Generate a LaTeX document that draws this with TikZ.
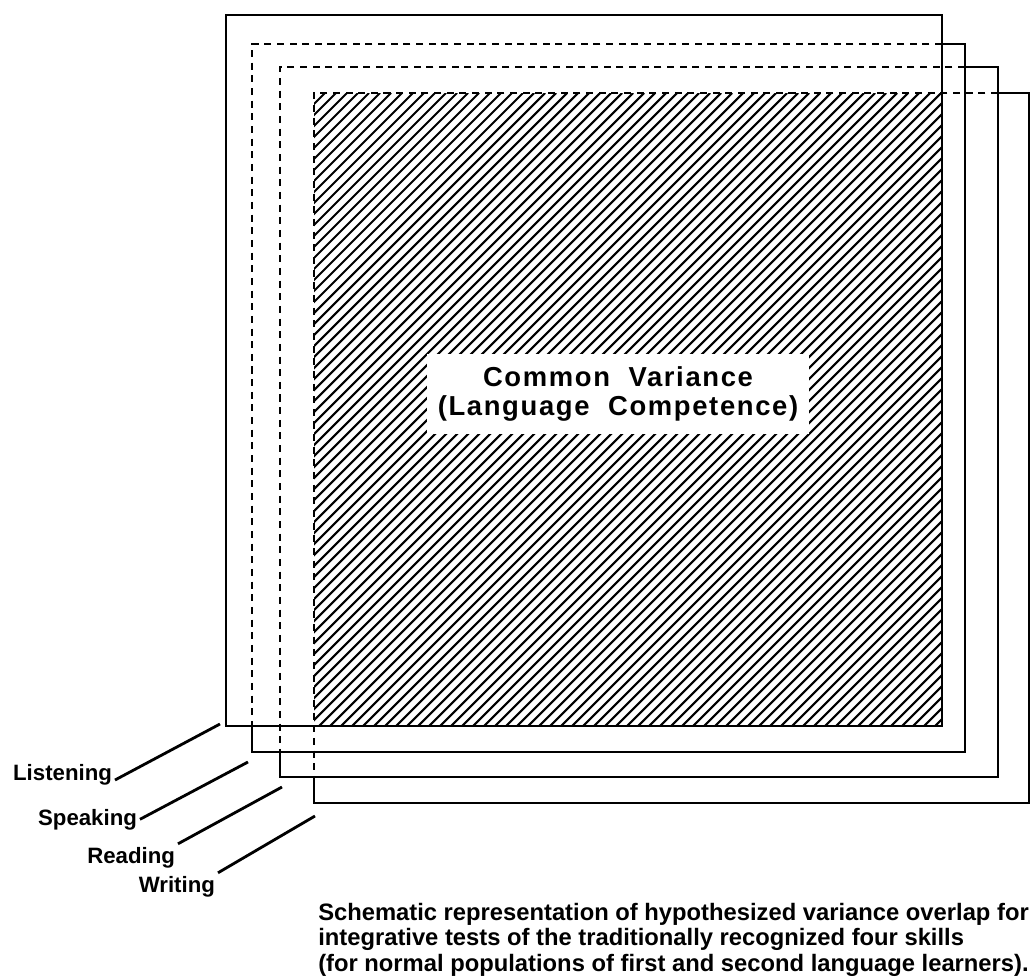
\documentclass[tikz,border=0pt]{standalone}
\usepackage{fontspec}
\setmainfont{Liberation Sans}
\newfontfamily\varfont[LetterSpace=6]{Liberation Sans}

\begin{document}
\begin{tikzpicture}[x=0.025cm, y=-0.025cm,
    box/.style={line width=2pt},
    hidden/.style={line width=2pt, dash pattern=on 5pt off 4pt},
    hatch/.style={line width=1.5pt},
    skill/.style={font=\fontsize{15.8}{18}\selectfont\bfseries, inner sep=2pt},
    leader/.style={line width=2pt}]
  \useasboundingbox (0,0) rectangle (1033,980);

  % Hatching for the overlap of all four squares
  \begin{scope}
    \clip (314,93) rectangle (942,726);
    \foreach \x in {-319,-308,...,942} {
      \draw[hatch] (\x,726) -- ++(633,-633);
    }
  \end{scope}

  % Front square (Listening)
  \draw[box] (226,15) rectangle (942,726);
  % Squares behind: dashed where covered, solid where they show
  \foreach \xl/\yt/\xr/\yb/\xp/\yp in {252/44/965/752/942/726,
      280/67/998/777/965/752, 314/93/1029/803/998/777} {
    \draw[hidden] (\xp,\yt) -- (\xl,\yt) -- (\xl,\yp);
    \draw[box] (\xp,\yt) -- (\xr,\yt) -- (\xr,\yb) -- (\xl,\yb) -- (\xl,\yp);
  }

  % Label on the hatched part
  \node[fill=white, inner xsep=8pt, inner ysep=9pt, align=center,
    font=\varfont\fontsize{19.5}{21}\selectfont\bfseries] (common) at (618,394)
    {Common\ \ Variance\\(Language\ \ Competence)};

  % Skill names and their leaders
  \node[skill, anchor=base east] (listening) at (115,780) {Listening};
  \node[skill, anchor=base east] (speaking) at (140,825) {Speaking};
  \node[skill, anchor=base east] (reading) at (178,863) {Reading};
  \node[skill, anchor=base east] (writing) at (218,892) {Writing};
  \coordinate (corner1) at (220,724);
  \coordinate (corner2) at (248,762);
  \coordinate (corner3) at (282,787);
  \coordinate (corner4) at (315,816);
  \draw[leader] (listening.base east) -- (corner1);
  \draw[leader] (speaking.east) -- (corner2);
  \draw[leader] (reading.north east) -- (corner3);
  \draw[leader] (writing.north east) -- (corner4);

  % Caption
  \node[anchor=north west, inner sep=0pt, align=left,
    font=\fontsize{16.9}{18}\selectfont\bfseries] (caption) at (318,903)
    {Schematic representation of hypothesized variance overlap for\\
     integrative tests of the traditionally recognized four skills\\
     (for normal populations of first and second language learners).};
\end{tikzpicture}
\end{document}
